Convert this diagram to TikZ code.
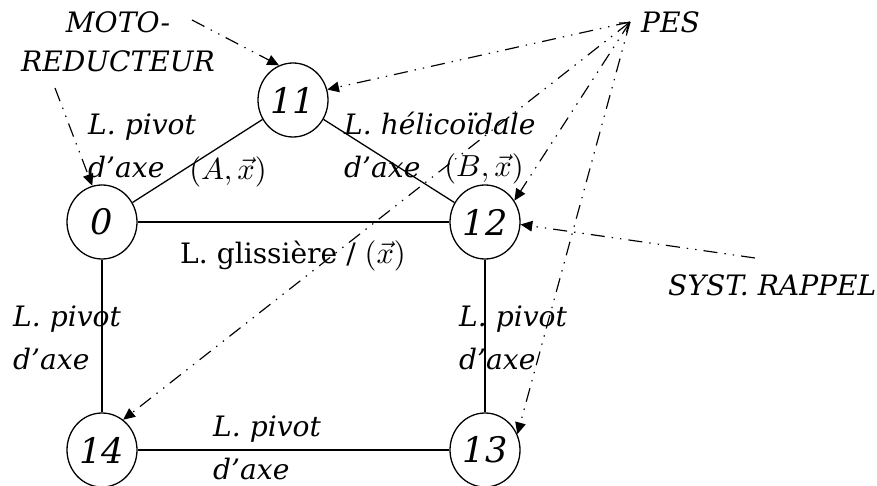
\documentclass[tikz,border=0pt]{standalone}
\usepackage{graphicx}
\usepackage{fontspec}
\setmainfont{DejaVu Serif}
\usepackage{tikz}
\usetikzlibrary{arrows.meta,shapes.geometric}
\definecolor{figline}{RGB}{0,0,0}
\newcommand{\axevec}[1]{{\fontsize{10}{12}\selectfont\scalebox{2.6}{$(#1\vec{x})$}}}
\tikzset{
  piece/.style ={ellipse, draw=figline, line width=1.1pt, minimum width=2.1cm, minimum height=2.22cm, inner sep=0pt, font=\fontsize{30}{34}\selectfont\itshape},
  lien/.style  ={draw=figline, line width=1.1pt},
  lab/.style   ={font=\fontsize{24}{36.5}\selectfont\itshape, inner sep=0pt, align=left, anchor=north west},
  extlab/.style={font=\fontsize{24}{34}\selectfont\itshape, inner sep=0pt, align=center},
  vecl/.style  ={inner sep=0pt},
  ext/.style   ={draw=figline, line width=1pt, dash pattern=on 12pt off 6pt on 1.2pt off 6pt on 1.2pt off 6pt, -{Triangle[length=10pt,width=9pt]}},
}
\begin{document}
\begin{tikzpicture}[x=0.03cm,y=-0.03cm]
  \useasboundingbox (0,0) rectangle (877,486);
  % pieces
  \node[piece] (n0)  at (102,222) {0};
  \node[piece] (n11) at (293,100) {11};
  \node[piece] (n12) at (485,222) {12};
  \node[piece] (n13) at (485,450) {13};
  \node[piece] (n14) at (102,450) {14};
  % liaisons
  \draw[lien] (n0) -- (n11);
  \draw[lien] (n11) -- (n12);
  \draw[lien] (n0) -- (n12);
  \draw[lien] (n0) -- (n14);
  \draw[lien] (n12) -- (n13);
  \draw[lien] (n14) -- (n13);
  \node[lab] (l011) at (88,114) {L. pivot\\d’axe};
  \node[vecl] (va) at (228,172) {\axevec{A,}};
  \node[lab] (l1112) at (344,112) {L. hélicoïdale\\d’axe};
  \node[vecl] (vb) at (484,169) {\axevec{B,}};
  \node[font=\fontsize{24}{28}\selectfont, inner sep=0pt, anchor=base west] (l012) at (180,264) {L. glissière / \axevec{}};
  \node[lab] (l014) at (13,306) {L. pivot\\d’axe};
  \node[lab] (l1213) at (459,306) {L. pivot\\d’axe};
  \node[lab] (l1413) at (213,416) {L. pivot\\d’axe};
  % exterieur
  \node[extlab,anchor=north] (moto) at (118,11) {MOTO-\\REDUCTEUR};
  \node[extlab,anchor=base west] (pes) at (641,33) {PES};
  \node[extlab,anchor=base west] (rappel) at (668,295) {SYST. RAPPEL};
  \coordinate (m1) at (192,20);
  \coordinate (m2) at (55,88);
  \coordinate (p0) at (630,22);
  \coordinate (r0) at (755,258);
  \draw[ext] (m1) -- (n11.112);
  \draw[ext] (m2) -- (n0.105);
  \draw[ext] (p0) -- (n11.17);
  \draw[ext] (p0) -- (n12.36);
  \draw[ext] (p0) -- (n13.26);
  \draw[ext,{Straight Barb[length=7pt,width=10pt]}-{Triangle[length=10pt,width=9pt]}] (p0) -- (n14.55);
  \draw[ext] (r0) -- (n12.-4);
\end{tikzpicture}
\end{document}
